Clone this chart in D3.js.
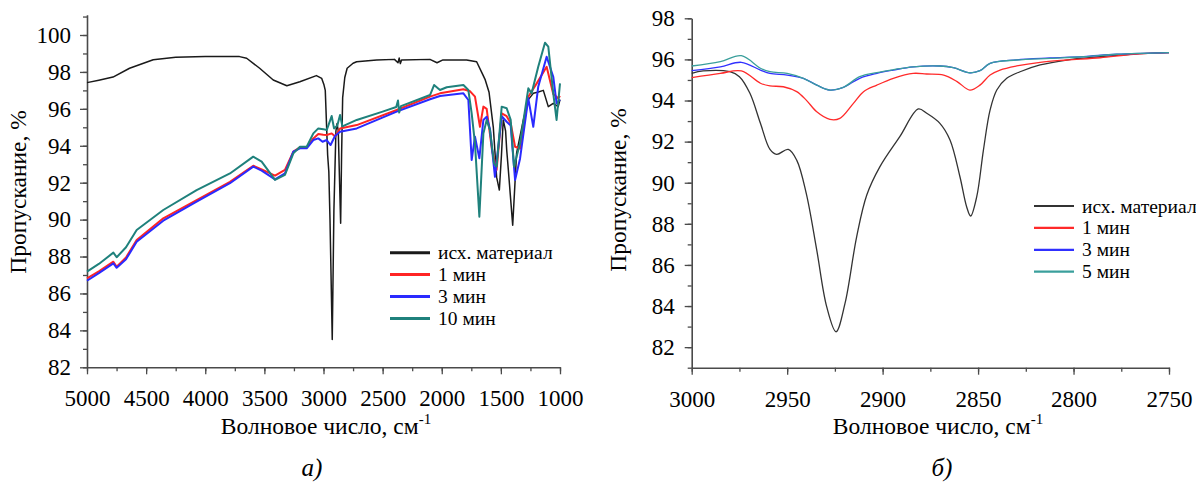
<!DOCTYPE html>
<html><head><meta charset="utf-8">
<script src="https://cdn.jsdelivr.net/npm/d3@7"></script>
<style>
body{margin:0;background:#fff}
svg{display:block}
</style>
</head><body>
<svg id="c" width="1196" height="486"></svg>
<script>
// ---------- Panel а) : 5000–1000 cm-1 ----------
const aXMajor = [5000,4500,4000,3500,3000,2500,2000,1500,1000];
const aYMajor = [82,84,86,88,90,92,94,96,98,100];
const aNames = ["исх. материал","1 мин","3 мин","10 мин"];
const aBlack = [[5000,97.42],[4900,97.55],[4780,97.72],[4640,98.2],[4440,98.66],[4250,98.79],[4000,98.83],[3710,98.83],[3650,98.74],[3540,98.2],[3425,97.56],[3310,97.25],[3200,97.47],[3060,97.8],[3015,97.65],[2996,97.3],[2985,97.0],[2965,93.5],[2955,92.6],[2945,90.0],[2926,83.5],[2912,90.5],[2895,94.8],[2885,95.2],[2875,94.8],[2866,92.5],[2855,89.8],[2847,93.5],[2838,96.6],[2820,97.7],[2800,98.2],[2750,98.47],[2720,98.55],[2550,98.65],[2400,98.68],[2370,98.5],[2360,98.75],[2350,98.45],[2340,98.65],[2100,98.68],[2040,98.5],[1990,98.65],[1790,98.65],[1705,98.55],[1660,97.95],[1634,97.6],[1600,96.9],[1564,95.0],[1536,92.3],[1513,91.6],[1495,93.5],[1480,95.4],[1460,94.8],[1451,93.8],[1437,92.7],[1400,89.7],[1367,93.6],[1310,95.4],[1268,96.5],[1226,96.84],[1190,96.9],[1141,97.0],[1099,96.12],[1057,96.3],[1015,96.12],[1000,96.5]];
const a1min = [[5000,86.82],[4900,87.2],[4777,87.72],[4749,87.45],[4670,87.95],[4580,88.89],[4355,90.07],[4073,91.06],[3791,92.05],[3594,92.92],[3523,92.72],[3410,92.38],[3326,92.69],[3255,93.68],[3199,93.92],[3142,93.92],[3086,94.4],[3044,94.64],[3002,94.6],[2973,94.58],[2931,94.67],[2900,94.5],[2860,94.94],[2719,95.12],[2381,95.94],[2099,96.66],[2015,96.84],[1817,97.06],[1760,96.95],[1719,96.66],[1677,95.03],[1648,96.12],[1620,96.0],[1575,93.77],[1536,92.69],[1493,95.76],[1451,95.6],[1417,95.22],[1380,93.95],[1338,93.85],[1268,96.66],[1197,97.38],[1113,98.28],[1057,96.8],[1015,96.57],[1000,96.7]];
const a3min = [[5000,86.69],[4900,87.1],[4777,87.63],[4749,87.39],[4670,87.85],[4580,88.8],[4355,89.94],[4073,90.97],[3791,91.97],[3594,92.87],[3523,92.65],[3410,92.18],[3326,92.51],[3255,93.68],[3199,93.86],[3142,93.86],[3086,94.31],[3044,94.4],[3008,94.22],[2973,94.31],[2940,94.04],[2903,94.53],[2860,94.76],[2719,94.94],[2381,95.85],[2099,96.52],[2015,96.7],[1817,96.84],[1775,96.48],[1747,93.23],[1719,94.49],[1682,93.32],[1648,95.4],[1620,95.57],[1592,94.9],[1550,92.32],[1493,95.6],[1451,95.3],[1417,95.1],[1380,92.15],[1338,93.3],[1268,96.57],[1226,95.03],[1184,97.2],[1113,98.82],[1057,97.74],[1029,96.3],[1000,96.5]];
const a10min = [[5000,87.18],[4900,87.6],[4777,88.21],[4749,87.96],[4670,88.5],[4580,89.44],[4355,90.52],[4073,91.6],[3791,92.5],[3594,93.41],[3523,93.14],[3450,92.5],[3410,92.15],[3326,92.42],[3255,93.59],[3199,93.95],[3142,93.95],[3086,94.67],[3044,94.94],[3002,94.9],[2973,94.85],[2931,95.61],[2911,94.94],[2883,95.1],[2860,95.67],[2840,95.05],[2719,95.4],[2500,95.85],[2385,96.1],[2370,96.45],[2360,95.8],[2345,96.15],[2099,96.75],[2065,97.29],[2015,97.02],[1958,97.17],[1817,97.29],[1775,97.02],[1747,95.76],[1719,94.13],[1682,90.16],[1648,94.67],[1620,95.4],[1592,94.85],[1558,93.05],[1536,92.87],[1493,96.12],[1451,96.03],[1417,95.4],[1389,92.87],[1338,94.13],[1268,97.11],[1240,96.84],[1184,98.28],[1127,99.58],[1099,99.37],[1057,96.84],[1029,95.4],[1000,97.38]];

// ---------- Panel б) : 3000–2750 cm-1 ----------
const bXMajor = [3000,2950,2900,2850,2800,2750];
const bYMajor = [82,84,86,88,90,92,94,96,98];
const bNames = ["исх. материал","1 мин","3 мин","5 мин"];
const bBlack = [[3000,95.32],[2994,95.44],[2980,95.4],[2975,95.16],[2969.5,94.35],[2964,92.89],[2959,91.62],[2955.5,91.38],[2949.4,91.62],[2945,91.1],[2940,89.48],[2934.5,86.72],[2929.3,83.97],[2924.4,82.75],[2919.7,84.13],[2913.6,87.37],[2908.3,89.4],[2901.4,90.78],[2891,92.24],[2881.3,93.59],[2876.9,93.38],[2870,92.89],[2864.7,92.08],[2859.5,90.29],[2856,88.83],[2853.9,88.38],[2850.7,89.32],[2847.2,91.59],[2843.7,93.54],[2840.2,94.51],[2835,95.08],[2828,95.4],[2817.5,95.73],[2803.6,95.97],[2786,96.13],[2768.7,96.26],[2750,96.33]];
const b1min = [[3000,95.11],[2985,95.32],[2974,95.44],[2964,94.84],[2959,94.71],[2952,94.67],[2945,94.43],[2940,94.02],[2934.5,93.45],[2927.6,93.08],[2922.4,93.13],[2915.3,93.86],[2910,94.43],[2903,94.75],[2894.4,95.08],[2884,95.32],[2877,95.29],[2868,95.24],[2861,94.92],[2854.3,94.51],[2849,94.75],[2843.7,95.24],[2838.5,95.48],[2829.8,95.68],[2817.5,95.86],[2803.6,95.97],[2786,96.08],[2768.7,96.25],[2750,96.33]];
const b3min = [[3000,95.45],[2985,95.64],[2974,95.86],[2964,95.48],[2959,95.32],[2950,95.24],[2941.5,95.08],[2934.5,94.75],[2927.6,94.51],[2920.6,94.64],[2912,95.08],[2903,95.32],[2894.4,95.48],[2884,95.64],[2870,95.68],[2863,95.6],[2854.3,95.35],[2849,95.45],[2843.7,95.81],[2829.8,95.98],[2812.3,96.07],[2794.8,96.14],[2777.3,96.25],[2750,96.33]];
const b5min = [[3000,95.68],[2985,95.89],[2974,96.18],[2964,95.57],[2959,95.4],[2950,95.32],[2941.5,95.08],[2934.5,94.75],[2927.6,94.51],[2920.6,94.64],[2912,95.16],[2903,95.36],[2894.4,95.5],[2884,95.64],[2870,95.68],[2863,95.6],[2854.3,95.35],[2849,95.45],[2843.7,95.81],[2829.8,95.97],[2812.3,96.05],[2794.8,96.13],[2777.3,96.25],[2750,96.33]];

const FONT = "Liberation Serif";
const svg = d3.select("#c").style("font-family", FONT);
const AX = "#4a4a4a";

function txt(sel, size){
  return sel.style("font-family", FONT).style("font-size", size + "px").style("fill", "#000");
}

function panel(o){
  const g = svg.append("g");
  const x = d3.scaleLinear().domain(o.xDom).range(o.xRange);
  const y = d3.scaleLinear().domain(o.yDom).range(o.yRange);
  const yb = o.yRange[0], xl = o.xRange[0];
  // minor ticks
  g.append("g").attr("transform",`translate(0,${yb})`)
    .call(d3.axisBottom(x).tickValues(d3.range(o.xDom[0], o.xDom[1]-1e-9, -o.xMinorStep)).tickSize(4).tickFormat(""))
    .call(s=>s.select(".domain").remove());
  g.append("g").attr("transform",`translate(${xl},0)`)
    .call(d3.axisLeft(y).tickValues(d3.range(Math.ceil(o.yDom[0]), o.yDom[1]+1e-9, 1)).tickSize(4).tickFormat(""))
    .call(s=>s.select(".domain").remove());
  // major
  g.append("g").attr("transform",`translate(0,${yb})`)
    .call(d3.axisBottom(x).tickValues(o.xMajor).tickSize(7).tickPadding(o.xPad).tickSizeOuter(0).tickFormat(d3.format("d")))
    .call(s=>txt(s.selectAll("text"), 23));
  g.append("g").attr("transform",`translate(${xl},0)`)
    .call(d3.axisLeft(y).tickValues(o.yMajor).tickSize(7).tickPadding(o.yPad).tickSizeOuter(0).tickFormat(d3.format("d")))
    .call(s=>txt(s.selectAll("text"), 23));
  g.selectAll("g").attr("font-family", null);
  g.selectAll(".domain").attr("stroke",AX).attr("stroke-width",1.6);
  g.selectAll(".tick line").attr("stroke",AX).attr("stroke-width",1.3);
  // lines
  const line = d3.line().x(d=>x(d[0])).y(d=>y(d[1])).curve(o.curve);
  o.series.forEach(s=>{
    g.append("path").datum(s.data).attr("fill","none").attr("stroke",s.color)
     .attr("stroke-width",s.width).attr("stroke-linejoin","round").attr("d",line);
  });
  // legend
  o.series.forEach((s,i)=>{
    const ly = o.legY + i*o.legDy;
    g.append("line").attr("x1",o.legX).attr("x2",o.legX+40).attr("y1",ly).attr("y2",ly)
     .attr("stroke",s.color).attr("stroke-width",o.legW);
    txt(g.append("text").attr("x",o.legX+48).attr("y",ly+6.5), 19.5).text(o.names[i]);
  });
  // axis titles
  txt(g.append("text").attr("transform",`translate(${o.yTitleX},${o.yTitleY}) rotate(-90)`)
   .attr("text-anchor","middle"), 23.5).text("Пропускание, %");
  const t = txt(g.append("text").attr("x",o.xTitleX).attr("y",434).attr("text-anchor","middle"), 23.5);
  t.append("tspan").text("Волновое число, см");
  t.append("tspan").style("font-size","15px").attr("dy",-10).text("-1");
  txt(g.append("text").attr("x",o.capX).attr("y",476).attr("text-anchor","middle"), 25)
   .style("font-style","italic").text(o.cap);
}

panel({
  xDom:[5000,1000], xRange:[87,560], yDom:[82,101.1], yRange:[367.3,14.7],
  xMajor:aXMajor, yMajor:aYMajor, xMinorStep:250, xPad:15, yPad:9,
  curve:d3.curveLinear, names:aNames,
  series:[
    {data:aBlack,color:"#1a1a1a",width:1.5},
    {data:a1min,color:"#ff2424",width:2},
    {data:a3min,color:"#2a2aff",width:2},
    {data:a10min,color:"#1f817c",width:2}
  ],
  legX:390, legY:252.7, legDy:21.9, legW:3,
  yTitleX:26, yTitleY:192, xTitleX:326, cap:"а)", capX:312
});
panel({
  xDom:[3000,2750], xRange:[691.7,1169], yDom:[81,98], yRange:[367.7,18.3],
  xMajor:bXMajor, yMajor:bYMajor, xMinorStep:25, xPad:16, yPad:10,
  curve:d3.curveCatmullRom.alpha(0.5), names:bNames,
  series:[
    {data:bBlack,color:"#333333",width:1.3},
    {data:b1min,color:"#ff2a2a",width:1.3},
    {data:b3min,color:"#3030ff",width:1.3},
    {data:b5min,color:"#3a9f9c",width:1.3}
  ],
  legX:1034, legY:206, legDy:21.9, legW:2.2,
  yTitleX:626, yTitleY:190, xTitleX:938, cap:"б)", capX:942
});
</script>
</body></html>
